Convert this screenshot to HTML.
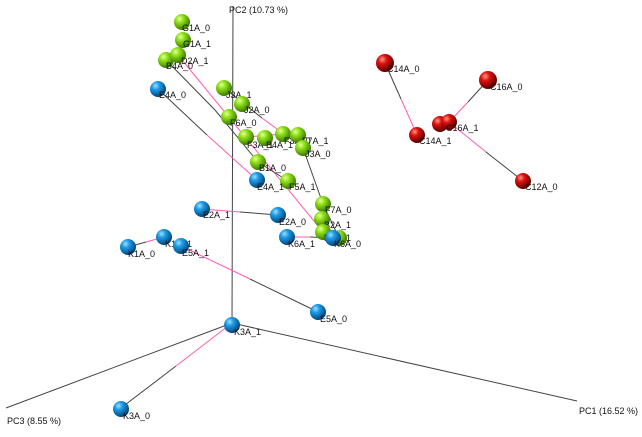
<!DOCTYPE html>
<html><head><meta charset="utf-8"><style>
html,body{margin:0;padding:0;background:#fff;}
svg{display:block;font-family:"Liberation Sans",sans-serif;font-size:9px;}
text{fill:#111;}
</style></head><body>
<svg width="642" height="437" viewBox="0 0 642 437" xmlns="http://www.w3.org/2000/svg">
<defs>
<radialGradient id="g" cx="35%" cy="30%" r="70%"><stop offset="0" stop-color="#e6ff9a"/><stop offset="0.35" stop-color="#8fe21a"/><stop offset="1" stop-color="#3d7a00"/></radialGradient>
<radialGradient id="b" cx="35%" cy="30%" r="70%"><stop offset="0" stop-color="#9fe0ff"/><stop offset="0.35" stop-color="#1d9be8"/><stop offset="1" stop-color="#04457a"/></radialGradient>
<radialGradient id="r" cx="35%" cy="30%" r="70%"><stop offset="0" stop-color="#ff9a8a"/><stop offset="0.35" stop-color="#e01010"/><stop offset="1" stop-color="#5a0000"/></radialGradient>
</defs>
<g stroke="#444" stroke-width="1" fill="none">
<line x1="233" y1="6" x2="232" y2="323"/>
<line x1="232" y1="323" x2="577" y2="401"/>
<line x1="232" y1="323" x2="6" y2="408"/>
</g>
<text x="229" y="13">PC2 (10.73 %)</text>
<text x="579" y="414">PC1 (16.52 %)</text>
<text x="7" y="424">PC3 (8.55 %)</text>
<g stroke-width="1" fill="none">
<line x1="158" y1="89" x2="207" y2="135" stroke="#444"/><line x1="207" y1="135" x2="257" y2="180" stroke="#ff5cb0"/>
<line x1="166" y1="60" x2="215" y2="110" stroke="#444"/><line x1="215" y1="110" x2="258" y2="162" stroke="#444"/>
<line x1="178" y1="55" x2="250" y2="143" stroke="#ff5cb0"/><line x1="250" y1="143" x2="323" y2="232" stroke="#ff5cb0"/>
<line x1="224" y1="88" x2="262" y2="118" stroke="#444"/><line x1="262" y1="118" x2="303" y2="148" stroke="#ff5cb0"/>
<line x1="303" y1="148" x2="323" y2="204" stroke="#444"/><line x1="323" y1="204" x2="339" y2="238" stroke="#444"/>
<line x1="246" y1="137" x2="283" y2="134" stroke="#ff5cb0"/>
<line x1="258" y1="162" x2="288" y2="181" stroke="#444"/>
<line x1="202" y1="209" x2="240" y2="212" stroke="#ff5cb0"/><line x1="240" y1="212" x2="278" y2="215" stroke="#444"/>
<line x1="287" y1="237" x2="310" y2="237" stroke="#ff5cb0"/><line x1="310" y1="237" x2="333" y2="238" stroke="#444"/>
<line x1="128" y1="247" x2="146" y2="242" stroke="#444"/><line x1="146" y1="242" x2="164" y2="237" stroke="#ff5cb0"/>
<line x1="181" y1="246" x2="250" y2="279" stroke="#ff5cb0"/><line x1="250" y1="279" x2="318" y2="312" stroke="#444"/>
<line x1="232" y1="323" x2="176" y2="366" stroke="#ff5cb0"/><line x1="176" y1="366" x2="121" y2="408" stroke="#444"/>
<line x1="385" y1="63" x2="401" y2="99" stroke="#444"/><line x1="401" y1="99" x2="417" y2="135" stroke="#ff5cb0"/>
<line x1="488" y1="80" x2="468" y2="102" stroke="#444"/><line x1="468" y1="102" x2="449" y2="122" stroke="#ff5cb0"/>
<line x1="449" y1="122" x2="486" y2="152" stroke="#ff5cb0"/><line x1="486" y1="152" x2="523" y2="181" stroke="#444"/>
</g>
<g>
<circle cx="182" cy="22" r="8" fill="url(#g)"/><text x="182" y="31">G1A_0</text>
<circle cx="183" cy="40" r="8" fill="url(#g)"/><text x="183" y="47">G1A_1</text>
<circle cx="166" cy="60" r="8" fill="url(#g)"/>
<circle cx="178" cy="55" r="8" fill="url(#g)"/><text x="181" y="64">D2A_1</text><text x="166" y="69">B4A_0</text>
<circle cx="224" cy="88" r="8" fill="url(#g)"/><text x="226" y="98">J3A_1</text>
<circle cx="242" cy="104" r="8" fill="url(#g)"/><text x="244" y="113">J2A_0</text>
<circle cx="229" cy="117" r="8" fill="url(#g)"/><text x="230" y="126">F6A_0</text>
<circle cx="246" cy="137" r="8" fill="url(#g)"/><text x="247" y="148">F3A_1</text>
<circle cx="265" cy="138" r="8" fill="url(#g)"/><text x="266" y="148">B4A_1</text>
<circle cx="283" cy="134" r="8" fill="url(#g)"/><text x="284" y="144">F3A_0</text>
<circle cx="298" cy="135" r="8" fill="url(#g)"/><text x="302" y="144">F7A_1</text>
<circle cx="303" cy="148" r="8" fill="url(#g)"/><text x="305" y="157">J3A_0</text>
<circle cx="258" cy="162" r="8" fill="url(#g)"/><text x="259" y="171">B1A_0</text>
<circle cx="288" cy="181" r="8" fill="url(#g)"/><text x="289" y="190">F5A_1</text>
<circle cx="323" cy="204" r="8" fill="url(#g)"/><text x="325" y="213">F7A_0</text>
<circle cx="322" cy="219" r="8" fill="url(#g)"/><text x="324" y="228">B2A_1</text>
<circle cx="323" cy="232" r="8" fill="url(#g)"/><text x="324" y="241">B1A_1</text>
<circle cx="339" cy="238" r="8" fill="url(#g)"/>
<circle cx="158" cy="89" r="8" fill="url(#g)" style="fill:url(#b)"/><text x="159" y="98">E4A_0</text>
<circle cx="257" cy="180" r="8" fill="url(#b)"/><text x="257" y="190">E4A_1</text>
<circle cx="202" cy="209" r="8" fill="url(#b)"/><text x="203" y="218">E2A_1</text>
<circle cx="278" cy="215" r="8" fill="url(#b)"/><text x="279" y="225">E2A_0</text>
<circle cx="287" cy="237" r="8" fill="url(#b)"/><text x="288" y="247">K6A_1</text>
<circle cx="333" cy="238" r="8" fill="url(#b)"/><text x="334" y="247">K6A_0</text>
<circle cx="128" cy="247" r="8" fill="url(#b)"/><text x="128" y="257">K1A_0</text>
<circle cx="164" cy="237" r="8" fill="url(#b)"/><text x="165" y="247">K1A_1</text>
<circle cx="181" cy="246" r="8" fill="url(#b)"/><text x="182" y="256">E5A_1</text>
<circle cx="318" cy="312" r="8" fill="url(#b)"/><text x="320" y="322">E5A_0</text>
<circle cx="232" cy="325" r="8" fill="url(#b)"/><text x="234" y="335">K3A_1</text>
<circle cx="121" cy="409" r="8" fill="url(#b)"/><text x="123" y="419">K3A_0</text>
<circle cx="385" cy="63" r="9" fill="url(#r)"/><text x="387" y="72">C14A_0</text>
<circle cx="417" cy="135" r="8" fill="url(#r)"/><text x="419" y="144">C14A_1</text>
<circle cx="488" cy="80" r="9" fill="url(#r)"/><text x="490" y="90">C16A_0</text>
<circle cx="440" cy="124" r="8" fill="url(#r)"/>
<circle cx="449" cy="122" r="8" fill="url(#r)"/><text x="446" y="131">C16A_1</text>
<circle cx="523" cy="181" r="8" fill="url(#r)"/><text x="525" y="190">C12A_0</text>
</g>
</svg>
</body></html>
